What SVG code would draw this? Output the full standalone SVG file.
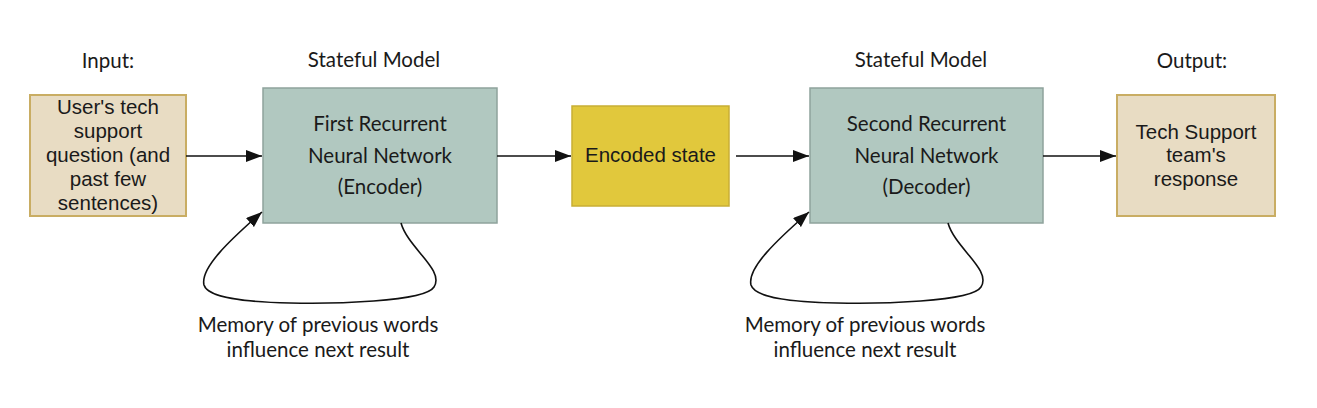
<svg xmlns="http://www.w3.org/2000/svg" width="1317" height="408" viewBox="0 0 1317 408">
<style>
.geo{font-family:Lato,"Open Sans","DejaVu Sans",sans-serif;font-size:20.5px;fill:#1a1a1a;text-anchor:middle}
.hel{font-family:"Liberation Sans",Arial,sans-serif;font-size:20.5px;fill:#1a1a1a;text-anchor:middle}
.io{fill:#e8dcc3;stroke:#c9ad63;stroke-width:2}
.rnn{fill:#b1c8c0;stroke:#8fa39c;stroke-width:1.5}
.enc{fill:#e1c83c;stroke:#c8ae34;stroke-width:1.5}
.edge{fill:none;stroke:#111;stroke-width:1.6}
</style>
<defs>
<marker id="ah2" viewBox="0 0 16 12" refX="16" refY="6" markerWidth="16" markerHeight="12" markerUnits="userSpaceOnUse" orient="auto">
<path d="M0,0 L16,6 L0,12 Z" fill="#111"/>
</marker>
</defs>
<rect width="1317" height="408" fill="#fff"/>
<g id="labels">
<text class="geo" x="108" y="68">Input:</text>
<text class="geo" x="374" y="67">Stateful Model</text>
<text class="geo" x="921" y="67">Stateful Model</text>
<text class="geo" x="1192" y="68">Output:</text>
</g>
<g id="input">
<rect class="io" x="30" y="95" width="156" height="121"/>
<text class="hel" x="108" y="114">User's tech</text>
<text class="hel" x="108" y="138">support</text>
<text class="hel" x="108" y="162">question (and</text>
<text class="hel" x="108" y="186">past few</text>
<text class="hel" x="108" y="210">sentences)</text>
</g>
<g id="encoder">
<rect class="rnn" x="263" y="88" width="234" height="135"/>
<text class="geo" x="380" y="131">First Recurrent</text>
<text class="geo" x="380" y="163">Neural Network</text>
<text class="geo" x="380" y="194">(Encoder)</text>
</g>
<g id="encoded">
<rect class="enc" x="572" y="106" width="157" height="100"/>
<text class="hel" x="650.5" y="162">Encoded state</text>
</g>
<g id="decoder">
<rect class="rnn" x="810" y="88" width="233" height="135"/>
<text class="geo" x="926.5" y="131">Second Recurrent</text>
<text class="geo" x="926.5" y="163">Neural Network</text>
<text class="geo" x="926.5" y="194">(Decoder)</text>
</g>
<g id="output">
<rect class="io" x="1117" y="95" width="158" height="121"/>
<text class="hel" x="1196" y="139">Tech Support</text>
<text class="hel" x="1196" y="162">team's</text>
<text class="hel" x="1196" y="186">response</text>
</g>
<g id="connectors">
<path class="edge" d="M186 156 H262" marker-end="url(#ah2)"/>
<path class="edge" d="M497 156 H571" marker-end="url(#ah2)"/>
<path class="edge" d="M736 156 H809" marker-end="url(#ah2)"/>
<path class="edge" d="M1043 156 H1116" marker-end="url(#ah2)"/>
<path class="edge" d="M401 223 C408 248 445 270 434 287 C425 302 330 304 290 303 C245 302 208 298 204 285 C200 268 230 240 262 212" marker-end="url(#ah2)"/>
<path class="edge" d="M948 223 C955 248 992 270 981 287 C972 302 877 304 837 303 C792 302 755 298 751 285 C747 268 777 240 809 212" marker-end="url(#ah2)"/>
</g>
<g id="notes">
<text class="geo" x="318" y="332">Memory of previous words</text>
<text class="geo" x="318" y="357">influence next result</text>
<text class="geo" x="865" y="332">Memory of previous words</text>
<text class="geo" x="865" y="357">influence next result</text>
</g>
</svg>
